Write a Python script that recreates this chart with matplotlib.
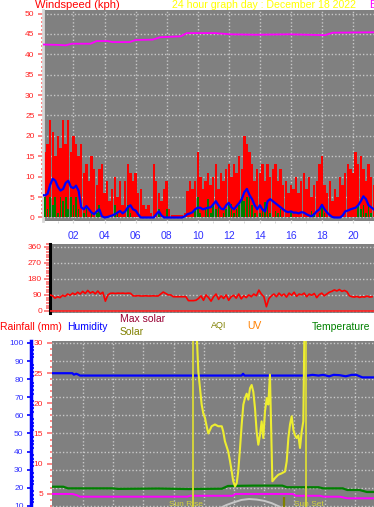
import numpy as np
import matplotlib
matplotlib.use("Agg")
import matplotlib.pyplot as plt
from matplotlib.ticker import MultipleLocator

plt.rcParams["font.family"] = ["Liberation Sans", "DejaVu Sans"]

W, H = 374, 507

# ---- wind (10 minute samples, kph) ----
gust = [12, 16, 18, 24, 21, 15, 20, 17, 24, 18, 24, 16, 20, 18, 15, 18, 11, 13, 9, 15,
        12, 8, 12, 13, 6, 9, 4, 7, 10, 5, 9, 3, 9, 13, 11, 9, 11, 6, 7, 3,
        2, 3, 1, 13, 9, 6, 4, 7, 9, 2, 0.5, 0.5, 0.5, 0.5, 0.5, 1, 6.5, 9, 7, 9,
        16, 10, 7, 9, 11, 8, 10, 13, 7, 11, 9, 12, 13, 10, 13, 11, 15, 12, 20, 18,
        16, 13, 9, 12, 11, 13, 9, 13, 10, 12, 13, 9, 12, 8, 9, 6, 8, 7, 10, 6,
        9, 11, 7, 10, 5, 8, 9, 13, 15, 8, 6, 9, 4, 7, 5, 10, 8, 11, 13, 12,
        11, 16, 13, 15, 12, 9, 13, 10, 8]
speed = [4, 5, 2, 5, 3, 5, 1, 5, 4, 5, 2, 5, 3, 5, 2, 0, 1, 2.5, 0, 1,
         0, 1, 3, 0, 0, 0, 0, 0, 3, 1, 0, 0, 0, 3, 1, 0, 0, 0, 0, 0,
         0, 0, 0, 0, 0, 2, 0, 0, 2, 0, 0, 0, 0, 0, 0, 0, 0, 0, 0, 2,
         5, 1, 0, 2, 4.5, 1, 3, 2, 3, 0, 1, 2, 3, 3.3, 1, 2, 3, 5, 4, 5,
         5, 3, 1, 0, 1, 2, 3.7, 3, 1, 0, 1.6, 1, 2, 0, 0, 0, 1.5, 0, 0, 0,
         0, 0, 0, 0, 1.6, 1, 0, 1, 3, 1, 0, 0, 0, 0, 0, 0, 0, 0, 0, 0,
         0, 0, 3, 2, 3, 1, 3, 1, 0]
avg_wind = [5.5, 5.4, 5.8, 8, 9.5, 9, 7.5, 6.6, 7, 8.5, 9, 7.5, 7.2, 7.8, 6.5, 2.5, 2, 2.8, 2, 1.2,
            0.8, 1.5, 2, 0.3, 0, 0.1, 0.3, 0.5, 0.8, 1.2, 1.6, 1, 1.5, 2.5, 3, 2, 1.7, 0.8, 0, 0,
            0, 0, 0, 0, 0.8, 1.5, 0.5, 0, 0, 0, 0, 0, 0, 0, 0, 0.3, 0.8, 1, 1.3, 2,
            2.4, 2.4, 2, 2.2, 2.4, 2.5, 3.2, 4, 3, 2.2, 2, 3, 3.6, 2.5, 2, 2.8, 3.5, 4.5, 6.2, 7,
            5.5, 4.5, 3, 2, 3, 2, 1.5, 4, 4.5, 4, 3.5, 3, 2.5, 2, 1.5, 1.3, 1.5, 1.2, 1.2, 1,
            1.3, 1.2, 0.8, 0.5, 0.3, 0.8, 1.5, 2, 3.1, 2, 1.2, 0.6, 0.1, 0, 0, 0, 0.5, 1.5, 1.7, 2,
            2.2, 2.4, 3, 4, 5.2, 4.5, 3, 2.5, 2]
baro_hours = [0.0, 1.1, 1.5, 1.9, 3.1, 3.5, 4.2, 4.5, 5.6, 6.0, 7.1, 7.6, 8.9, 9.3,
              11.1, 12.1, 13.7, 15.9, 18.2, 18.7, 21.4]
baro = [42.4, 42.3, 42.2, 42.6, 42.6, 43.25, 43.25, 43.0, 43.0, 43.5, 43.6, 44.2, 44.4, 45.2,
        45.2, 44.9, 44.8, 44.9, 44.7, 45.3, 45.4]
hour_ticks = [2, 4, 6, 8, 10, 12, 14, 16, 18, 20]
hour_labels = ["02", "04", "06", "08", "10", "12", "14", "16", "18", "20"]

# ---- wind direction (10 minute samples, degrees) ----
wind_dir = [90, 85, 72, 80, 75, 88, 82, 95, 88, 100, 92, 105, 95, 110, 98, 115, 100, 108, 96, 112,
            95, 105, 55, 90, 99, 100, 98, 100, 99, 100, 98, 100, 99, 85, 84, 86, 84, 84, 85, 84,
            84, 85, 84, 84, 95, 106, 98, 90, 90, 80, 80, 80, 80, 80, 80, 58, 58, 58, 60, 70,
            85, 60, 90, 75, 55, 80, 95, 65, 85, 70, 90, 60, 80, 88, 72, 95, 68, 85, 75, 90,
            80, 95, 85, 117, 95, 80, 24, 70, 85, 95, 80, 100, 85, 95, 78, 100, 88, 105, 82, 95,
            90, 100, 80, 95, 88, 98, 75, 92, 100, 85, 95, 105, 110, 118, 112, 120, 110, 115, 108, 85,
            80, 78, 82, 76, 80, 78, 84, 78, 80]
dir_ticks = [0, 90, 180, 270, 360]

# ---- lower panel (values on humidity scale) ----
hum_hours = [0, 1.3, 1.4, 1.55, 1.7, 1.8, 12.5, 12.6, 12.7, 16.9, 17.2, 17.6, 17.9, 18.3,
             18.6, 19.0, 19.4, 19.8, 20.1, 20.5, 21.3]
humidity = [83.3, 83.3, 82.5, 83.0, 82.5, 82.0, 82.0, 83.0, 82.0, 82.0, 82.4, 82.0, 82.4, 81.6,
            82.4, 82.2, 81.6, 82.4, 82.4, 81.0, 81.0]
temp_hours = [0, 0.7, 1.0, 4.0, 4.3, 7.0, 9.0, 11.2, 11.6, 13.3, 15.2, 15.5, 17.6, 17.9,
              19.2, 19.5, 20.3, 20.8, 21.3]
temperature = [20.6, 20.6, 19.7, 19.7, 19.4, 19.6, 19.3, 19.5, 21.0, 21.2, 21.2, 20.3, 20.3, 19.7,
               19.7, 18.8, 18.8, 17.7, 17.7]
dew_hours = [0, 1.3, 1.6, 1.8, 8.9, 9.1, 11.9, 12.1, 15.9, 16.1, 17.7, 17.9, 19.0, 19.5, 21.3]
dewpoint = [16.6, 16.6, 15.9, 15.1, 15.1, 15.6, 15.6, 16.6, 16.6, 15.6, 15.6, 15.1, 15.1, 14.2, 14.2]
solar_hours = [9.30, 9.53, 9.64, 9.75, 9.86, 9.97, 10.08, 10.19, 10.30, 10.41, 10.52, 10.74, 10.96,
               11.19, 11.29, 11.40, 11.62, 11.74, 11.85, 11.95, 12.07, 12.18, 12.28, 12.40, 12.51,
               12.62, 12.73, 12.84, 12.95, 13.06, 13.17, 13.28, 13.39, 13.50, 13.61, 13.72, 13.83,
               13.94, 14.05, 14.17, 14.27, 14.38, 14.45, 14.54, 14.72, 14.93, 15.16, 15.38, 15.49,
               15.60, 15.71, 15.82, 15.93, 16.04, 16.15, 16.26, 16.37, 16.48, 16.59, 16.66]
solar = [105, 105, 84, 75, 66, 61, 58.6, 54, 50, 52, 54, 55, 54,
         54, 51, 45.7, 40, 34.6, 29, 23.6, 20.8, 22.6, 29, 42, 55,
         66, 69.6, 72, 68.7, 75, 76.8, 73, 64, 51, 43.8, 49, 56.7,
         47.5, 62, 69.6, 66, 82.5, 56.7, 23.6, 25.4, 27.2, 28, 29, 34.6,
         47.5, 55, 59.5, 52, 49, 47.5, 49, 42, 51, 56.7, 105]
max_solar_hours = [9.3, 10.0, 11.0, 11.5, 12.0, 12.5, 13.0, 13.5, 14.0, 14.5, 15.0, 16.0, 16.75]
max_solar = [0, 3.5, 8.5, 10.5, 12.0, 13.3, 13.8, 13.5, 12.8, 11.5, 9.6, 4.5, 0]
sun_rise, sun_set = 9.30, 16.75
aqi_hour, aqi_value = 15.28, 15


def box(x0, y0, x1, y1):
    # pixel rectangle (top-left origin) -> figure fraction
    return [x0 / W, 1 - y1 / H, (x1 - x0) / W, (y1 - y0) / H]


fig = plt.figure(figsize=(W / 100, H / 100), dpi=100)
fig.patch.set_facecolor("white")

grid_kw = dict(color="#c8c8c8", linestyle=(0, (1, 1.5)), linewidth=1)

# ---------------- wind speed panel ----------------
ax = fig.add_axes(box(43, 10, 374, 221))
ax.set_facecolor("#808080")
t = np.arange(len(gust)) / 6
ax.bar(t, gust, width=0.155, color="#ff0000", linewidth=0, zorder=2)
ax.bar(t, speed, width=0.11, color="#008000", linewidth=0, zorder=3)
ax.plot(t, avg_wind, color="#0000ff", lw=1.6, zorder=4)
ax.plot(baro_hours, baro, color="#ff00ff", lw=1.3, zorder=4)
ax.set_xlim(0.039, 21.35)
ax.set_ylim(-0.86, 50.86)
ax.set_yticks(range(0, 51, 5))
ax.yaxis.set_minor_locator(MultipleLocator(1))
ax.set_xticks(hour_ticks)
ax.set_xticklabels(hour_labels)
ax.xaxis.set_minor_locator(MultipleLocator(1))
ax.tick_params(axis="y", which="major", length=3.6, width=1.2, color="#ff7070",
               labelcolor="#ff2020", labelsize=6, pad=2.5)
ax.tick_params(axis="y", which="minor", length=1.8, width=1.2, color="#ff7070")
ax.tick_params(axis="x", which="both", length=1.4, color="#d0d0d0",
               labelcolor="#3030ff", labelsize=7.5, pad=5.5)
ax.grid(True, which="major", **grid_kw)
ax.set_axisbelow(True)
for s in ("top", "right", "bottom"):
    ax.spines[s].set_visible(False)
ax.spines["left"].set_color("#d8d8d8")
ax.spines["left"].set_linewidth(2)

fig.text(35 / W, 1 - 4.5 / H, "Windspeed (kph)", color="#ff0000", fontsize=8, va="center")
fig.text(172 / W, 1 - 4.5 / H, "24 hour graph day : December 18 2022", color="#ffff00",
         fontsize=7.6, va="center")
fig.text(369 / W, 1 - 4.5 / H, "B", color="#ff00ff", fontsize=8, va="center")

# ---------------- wind direction panel ----------------
ax2 = fig.add_axes(box(50, 244, 374, 313))
ax2.set_facecolor("#808080")
td = np.arange(len(wind_dir)) / 6
ax2.plot(td, wind_dir, color="#ff0000", lw=1.2, zorder=3)
ax2.axhline(0, color="#ff2020", lw=1.2, zorder=3)
ax2.set_xlim(0, 21.46)
ax2.set_ylim(-11.2, 375)
ax2.set_yticks(dir_ticks)
ax2.yaxis.set_minor_locator(MultipleLocator(15))
ax2.set_xticks([])
ax2.tick_params(axis="y", which="major", length=4.3, width=1.2, color="#ff7070",
                labelcolor="#ff2020", labelsize=6, pad=1.5)
ax2.tick_params(axis="y", which="minor", length=3, width=1.2, color="#ff7070")
ax2.yaxis.grid(True, **grid_kw)
ax2.set_axisbelow(True)
for s in ("top", "right", "bottom"):
    ax2.spines[s].set_visible(False)
ax2.spines["left"].set_color("black")
ax2.spines["left"].set_linewidth(2.2)

# ---------------- lower panel ----------------
legend_items = [
    ("Rainfall (mm)", 0, 327, "#ff0000", 7.5),
    ("Humidity", 67, 327, "#0000ff", 7.5),
    ("Max solar", 120, 318.5, "#990033", 7.5),
    ("Solar", 120, 332, "#808000", 7.5),
    ("AQI", 211, 326, "#808000", 6.5),
    ("UV", 247, 326, "#ff8000", 7.5),
    ("Temperature", 312, 327, "#008000", 7.5),
]
for label, px, py, col, fs in legend_items:
    fig.text(px / W, 1 - py / H, label, color=col, fontsize=fs, va="center")

ax3 = fig.add_axes(box(52, 341, 374, 524))
ax3.set_facecolor("#808080")
ax3.set_xlim(-0.05, 21.27)
ax3.set_ylim(0, 101.1)
ax3.set_xticks(hour_ticks)
ax3.set_yticks(range(10, 101, 10))
ax3.yaxis.set_minor_locator(MultipleLocator(2))
ax3.grid(True, which="major", **grid_kw)
ax3.set_axisbelow(True)
ax3.tick_params(axis="x", length=0, labelbottom=False)
ax3.tick_params(axis="y", which="major", direction="out", length=2.9, width=1.2,
                color="#0000ff", labelcolor="#3030ff", labelsize=6, pad=2.5)
ax3.tick_params(axis="y", which="minor", direction="in", length=2.2, width=1.2, color="#0000ff")
for s in ("top", "right", "bottom"):
    ax3.spines[s].set_visible(False)
ax3.spines["left"].set_position(("outward", 15.1))
ax3.spines["left"].set_color("#0000ff")
ax3.spines["left"].set_linewidth(2.5)

rain = ax3.secondary_yaxis(0, functions=(lambda h: h * 0.3, lambda r: r / 0.3))
rain.set_yticks([5, 10, 15, 20, 25, 30])
rain.yaxis.set_minor_locator(MultipleLocator(1))
rain.tick_params(which="major", length=3.6, width=1.2, color="#ff7070",
                 labelcolor="#ff2020", labelsize=6, pad=2.8)
rain.tick_params(which="minor", length=1.8, width=1.2, color="#ff7070")
rain.spines["left"].set_visible(False)

ax3.plot(temp_hours, temperature, color="#008000", lw=1.6, zorder=3)
ax3.plot(dew_hours, dewpoint, color="#ff00ff", lw=1.4, zorder=3)
ax3.plot(hum_hours, humidity, color="#0000ff", lw=1.6, zorder=3)
ax3.plot(max_solar_hours, max_solar, color="#c8c8c8", lw=1.4, zorder=3)
ax3.vlines(aqi_hour, 0, aqi_value, color="#808000", lw=1.6, zorder=3)
ax3.axvline(sun_rise, color="#d4d43c", lw=1.4, zorder=4)
ax3.axvline(sun_set, color="#d4d43c", lw=1.4, zorder=4)
ax3.plot(solar_hours, solar, color="#eded30", lw=1.5, zorder=5)
ax3.text(sun_rise - 0.45, 11, "Sun Rise", color="#d4d43c", fontsize=6, ha="center", va="center")
ax3.text(sun_set + 0.18, 11, "Sun Set", color="#d4d43c", fontsize=6, ha="center", va="center")

fig.savefig("out.png", dpi=100, facecolor="white")
